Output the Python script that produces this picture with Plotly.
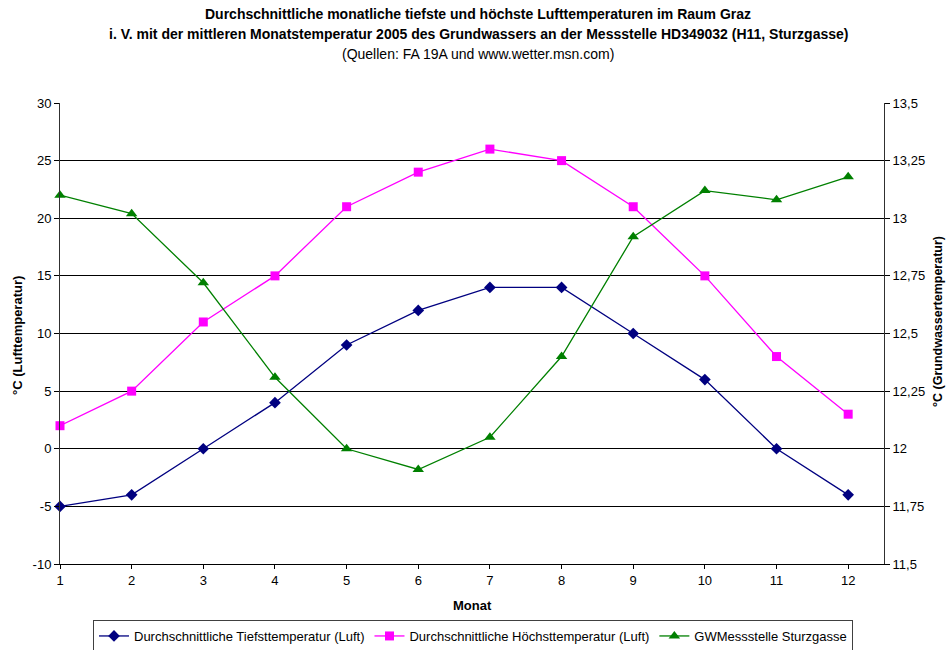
import plotly.graph_objects as go

# Monthly data
monate = list(range(1, 13))
tiefst_luft = [-5, -4, 0, 4, 9, 12, 14, 14, 10, 6, 0, -4]
hoechst_luft = [2, 5, 11, 15, 21, 24, 26, 25, 21, 15, 8, 3]
gw_sturzgasse = [13.10, 13.02, 12.72, 12.31, 12.00, 11.91, 12.05, 12.40, 12.92, 13.12, 13.08, 13.18]

# Axis ticks
luft_ticks = [-10, -5, 0, 5, 10, 15, 20, 25, 30]
luft_ticktext = ["-10", "-5", "0", "5", "10", "15", "20", "25", "30"]
gw_ticks = [11.5, 11.75, 12.0, 12.25, 12.5, 12.75, 13.0, 13.25, 13.5]
gw_ticktext = ["11,5", "11,75", "12", "12,25", "12,5", "12,75", "13", "13,25", "13,5"]

FONT = "Liberation Sans, Arial, sans-serif"

fig = go.Figure()
fig.add_trace(go.Scatter(
    x=monate, y=tiefst_luft, mode="lines+markers",
    name="Durchschnittliche Tiefsttemperatur (Luft)",
    line=dict(color="#000080", width=1.3),
    marker=dict(symbol="diamond", size=9, color="#000080"),
    cliponaxis=False,
))
fig.add_trace(go.Scatter(
    x=monate, y=hoechst_luft, mode="lines+markers",
    name="Durchschnittliche Höchsttemperatur (Luft)",
    line=dict(color="#FF00FF", width=1.3),
    marker=dict(symbol="square", size=9, color="#FF00FF"),
    cliponaxis=False,
))
fig.add_trace(go.Scatter(
    x=monate, y=gw_sturzgasse, mode="lines+markers",
    name="GWMessstelle Sturzgasse", yaxis="y2",
    line=dict(color="#008000", width=1.3),
    marker=dict(symbol="triangle-up", size=10, color="#008000"),
    cliponaxis=False,
))

# helpers: page pixel -> paper coordinates of the plot area
def py(pix):
    return (564 - pix) / 461.0

def px(pix):
    return (pix - 60) / 824.0

annotations = [
    dict(text="<b>Durchschnittliche monatliche tiefste und höchste Lufttemperaturen im Raum Graz</b>",
         x=px(478), y=py(14), font=dict(size=14)),
    dict(text="<b>i. V. mit der mittleren Monatstemperatur 2005 des Grundwassers an der Messstelle HD349032 (H11, Sturzgasse)</b>",
         x=px(478), y=py(34), font=dict(size=14)),
    dict(text="(Quellen: FA 19A und www.wetter.msn.com)",
         x=px(478), y=py(54), font=dict(size=14)),
    dict(text="<b>°C (Lufttemperatur)</b>", x=px(17), y=py(336), textangle=-90, font=dict(size=13)),
    dict(text="<b>°C (Grundwassertemperatur)</b>", x=px(938), y=py(322), textangle=-90, font=dict(size=12.5)),
    dict(text="<b>Monat</b>", x=px(472), y=py(605), font=dict(size=13)),
]
for a in annotations:
    a.update(xref="paper", yref="paper", showarrow=False, xanchor="center", yanchor="middle")

fig.update_layout(
    width=947, height=650,
    margin=dict(l=60, r=63, t=103, b=86, autoexpand=False),
    paper_bgcolor="white", plot_bgcolor="white",
    font=dict(family=FONT, size=13, color="black"),
    showlegend=True,
    legend=dict(orientation="h", x=px(473), xanchor="center", y=py(636), yanchor="middle",
                bordercolor="#404040", borderwidth=1, font=dict(size=13),
                itemwidth=30, tracegroupgap=0),
    annotations=annotations,
    xaxis=dict(range=[1, 12.5], tickvals=monate, ticks="outside", ticklen=4,
               tickcolor="black", showline=True, linecolor="black", linewidth=1,
               showgrid=False, zeroline=False, fixedrange=True),
    yaxis=dict(range=[-10, 30], tickvals=luft_ticks, ticktext=luft_ticktext,
               ticks="outside", ticklen=5, tickcolor="black",
               showline=True, linecolor="#303030", linewidth=1,
               showgrid=True, gridcolor="black", gridwidth=1, zeroline=False),
    yaxis2=dict(range=[11.5, 13.5], tickvals=gw_ticks, ticktext=gw_ticktext,
                overlaying="y", side="right", ticks="outside", ticklen=5, tickcolor="black",
                showline=True, linecolor="#303030", linewidth=1,
                showgrid=False, zeroline=False),
)

fig.write_html("out.html")
